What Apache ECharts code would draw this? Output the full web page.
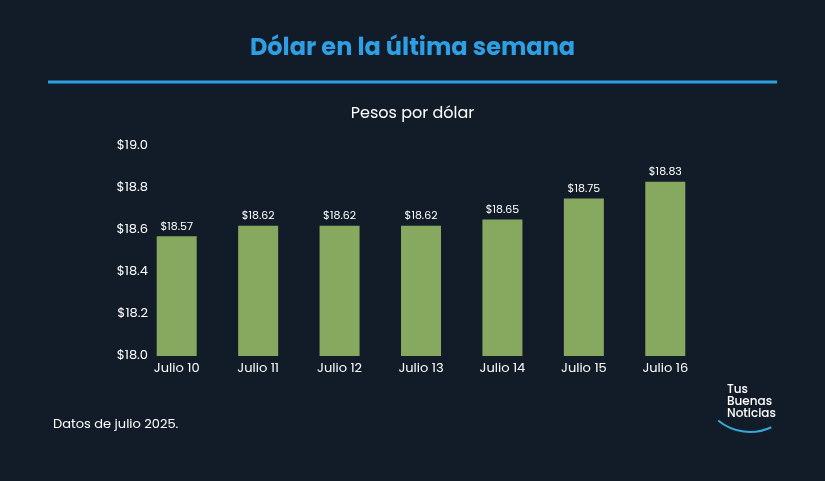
<!DOCTYPE html>
<html><head><meta charset="utf-8">
<script src="https://cdn.jsdelivr.net/npm/echarts@6/dist/echarts.min.js"></script>
<style>html,body{margin:0;background:#121c29}#c{width:825px;height:481px}</style>
</head><body><div id="c"></div>
<script>
// datos
const dias = ['Julio 10', 'Julio 11', 'Julio 12', 'Julio 13', 'Julio 14', 'Julio 15', 'Julio 16'];
const precios = [18.57, 18.62, 18.62, 18.62, 18.65, 18.75, 18.83];

const chart = echarts.init(document.getElementById('c'));
const font = 'Poppins, Inter, "Noto Sans", sans-serif';
chart.setOption({
    backgroundColor: '#121c29',
    textStyle: { fontFamily: font },
    title: [
        { text: 'Dólar en la última semana', left: 'center', top: 32,
          textStyle: { color: '#2e9fe3', fontSize: 24, fontWeight: 'bold', fontFamily: font } },
        { text: 'Pesos por dólar', left: 'center', top: 101,
          textStyle: { color: '#ffffff', fontSize: 16, fontWeight: 'normal', fontFamily: font } }
    ],
    grid: { left: 136, width: 570, top: 146, bottom: 125 },
    xAxis: {
        type: 'category', data: dias,
        axisLine: { show: false }, axisTick: { show: false },
        axisLabel: { color: '#ffffff', fontSize: 13, margin: 6 }
    },
    yAxis: {
        type: 'value', min: 18, max: 19, interval: 0.2,
        splitLine: { show: false },
        axisLabel: { color: '#ffffff', fontSize: 13, margin: -12,
            formatter: v => '$' + v.toFixed(1) }
    },
    series: [{
        type: 'bar', data: precios, barWidth: 40,
        itemStyle: { color: '#86a95f' },
        label: { show: true, position: 'top', color: '#ffffff', fontSize: 11, distance: 4,
            formatter: p => '$' + p.value.toFixed(2) }
    }],
    graphic: [
        { type: 'line', shape: { x1: 48, y1: 82, x2: 777, y2: 82 },
          style: { stroke: '#2e9fe3', lineWidth: 3 } },
        { type: 'text', left: 53, top: 418,
          style: { text: 'Datos de julio 2025.', fill: '#ffffff', fontSize: 13, fontFamily: font } },
        { type: 'text', left: 727, top: 384,
          style: { text: 'Tus\nBuenas\nNoticias', fill: '#ffffff', fontSize: 12, lineHeight: 12,
                   fontWeight: 500, fontFamily: font } },
        { type: 'arc', shape: { cx: 750, cy: 382, r: 50, startAngle: Math.PI * 0.36, endAngle: Math.PI * 0.72 },
          style: { stroke: '#3aa6d8', lineWidth: 2, fill: null } }
    ]
});
</script></body></html>
